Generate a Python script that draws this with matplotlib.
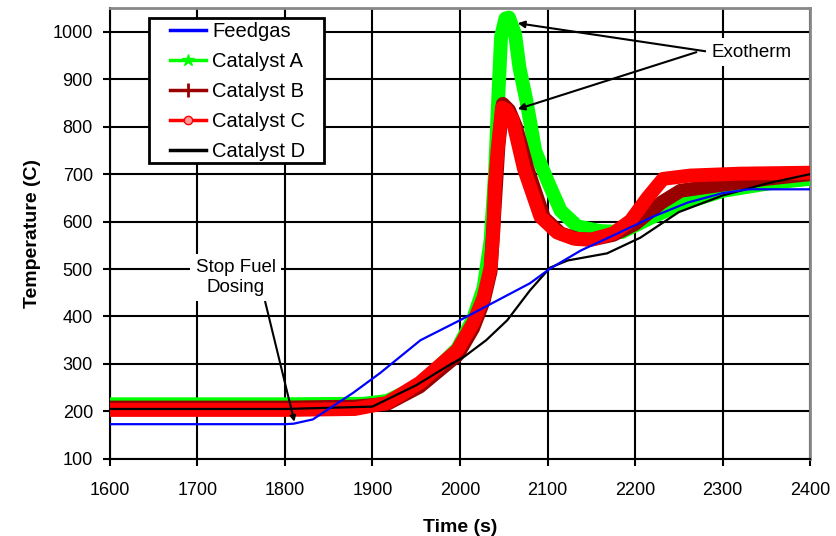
import numpy as np
import matplotlib
matplotlib.use("Agg")
import matplotlib.pyplot as plt
from matplotlib.lines import Line2D
from matplotlib.patches import Rectangle

plt.rcParams['font.family'] = ['Liberation Sans', 'DejaVu Sans']

# values
feed_t = [1600, 1700, 1800, 1810, 1832, 1878, 1909, 1955, 2000, 2043, 2080, 2103, 2138,
          2180, 2220, 2260, 2300, 2330, 2400]
feed_T = [173, 173, 173, 174, 183, 239, 281, 350, 392, 434, 470, 501, 539,
          575, 610, 640, 660, 668, 668]

catA_t = [1600, 1800, 1890, 1917, 1954, 1997, 2015, 2027, 2035, 2040, 2044, 2047, 2052,
          2056, 2063, 2068, 2076, 2086, 2100, 2115, 2134, 2160, 2185, 2218, 2252, 2301,
          2358, 2400]
catA_T = [215, 215, 216, 222, 255, 332, 395, 460, 560, 700, 870, 990, 1028,
          1030, 995, 924, 854, 749, 686, 623, 590, 580, 578, 608, 637, 665,
          682, 690]

catB_t = [1600, 1800, 1880, 1917, 1954, 1997, 2015, 2027, 2035, 2040, 2044, 2049, 2056,
          2064, 2077, 2096, 2115, 2135, 2150, 2175, 2200, 2230, 2252, 2301, 2350, 2400]
catB_T = [208, 208, 210, 216, 252, 318, 375, 432, 495, 640, 760, 848, 835,
          800, 712, 608, 575, 563, 562, 572, 595, 640, 665, 678, 690, 700]

catC_t = [1600, 1800, 1880, 1917, 1954, 1997, 2015, 2027, 2035, 2038, 2040, 2043, 2048,
          2053, 2060, 2073, 2092, 2111, 2130, 2150, 2175, 2195, 2214, 2232, 2263, 2320, 2400]
catC_T = [203, 203, 205, 218, 260, 329, 386, 440, 503, 575, 680, 750, 840,
          835, 815, 712, 610, 577, 564, 562, 575, 602, 650, 690, 697, 701, 703]

catD_t = [1600, 1800, 1900, 1950, 1990, 2004, 2030, 2054, 2080, 2103, 2123, 2168, 2206,
          2250, 2300, 2350, 2400]
catD_T = [205, 205, 210, 255, 300, 314, 350, 392, 455, 503, 518, 533, 566,
          620, 655, 680, 700]

labels = ['Feedgas', 'Catalyst A', 'Catalyst B', 'Catalyst C', 'Catalyst D']

W, H = 837, 536
fig = plt.figure(figsize=(W / 100, H / 100), dpi=100)
ax = fig.add_axes([0.131, 0.144, 0.837, 0.841])

ax.plot(catA_t, catA_T, color='#00ff00', lw=10, solid_joinstyle='round', zorder=3)
ax.plot(catB_t, catB_T, color='#990000', lw=10, solid_joinstyle='round', zorder=4)
ax.plot(catC_t, catC_T, color='#ff0000', lw=10, solid_joinstyle='round', zorder=5)
ax.plot(catD_t, catD_T, color='black', lw=1.6, zorder=6)
ax.plot(feed_t, feed_T, color='#0000ff', lw=1.6, zorder=7)

ax.set_xlim(1600, 2400)
ax.set_ylim(100, 1050)
ax.set_xticks(np.arange(1600, 2401, 100))
ax.set_yticks(np.arange(100, 1001, 100))
ax.grid(True, color='black', lw=1.5, zorder=1)
ax.set_axisbelow(True)
ax.tick_params(axis='both', direction='out', length=5, width=1.5, labelsize=13)
ax.tick_params(axis='x', pad=12)
ax.tick_params(axis='y', pad=7)
for side in ['top', 'right']:
    ax.spines[side].set_color('#888888')
    ax.spines[side].set_linewidth(2)
for side in ['left', 'bottom']:
    ax.spines[side].set_linewidth(1.5)

ax.set_xlabel('Time (s)', fontsize=14, fontweight='bold', labelpad=14)
ax.set_ylabel('Temperature (C)', fontsize=14, fontweight='bold', labelpad=8)

# legend frame drawn by hand so the padding matches the reference
frame = Rectangle((149 / W, 1 - 163 / H), 175 / W, 145 / H, transform=fig.transFigure,
                  fc='white', ec='black', lw=2, zorder=5)
fig.patches.append(frame)

handles = [
    Line2D([], [], color='#0000ff', lw=2.5),
    Line2D([], [], color='#00ff00', lw=2.5, marker='*', ms=9),
    Line2D([], [], color='#990000', lw=2.5, marker='+', ms=10, mew=2),
    Line2D([], [], color='#ff0000', lw=2.5, marker='o', ms=6, mfc='#ff9999'),
    Line2D([], [], color='black', lw=2.5),
]
leg = fig.legend(handles, labels, loc='upper left', bbox_to_anchor=(170 / W, 1 - 22 / H),
                 fontsize=14.5, frameon=False, handlelength=1.8, handletextpad=0.3,
                 labelspacing=0.55, borderpad=0, borderaxespad=0)
leg.set_zorder(6)

ax.annotate('Stop Fuel\nDosing', xy=(1811, 178), xytext=(1744, 482),
            fontsize=13.5, ha='center', va='center',
            bbox=dict(boxstyle='square,pad=0.3', fc='white', ec='none'),
            arrowprops=dict(arrowstyle='-|>', color='black', lw=1.5,
                            shrinkA=0, shrinkB=0, mutation_scale=8,
                            relpos=(0.85, 0.0)),
            zorder=9)

ax.annotate('Exotherm', xy=(2066, 1018), xytext=(2333, 957),
            fontsize=13.5, ha='center', va='center',
            bbox=dict(boxstyle='square,pad=0.3', fc='white', ec='none'),
            arrowprops=dict(arrowstyle='-|>', color='black', lw=1.5,
                            shrinkA=0, shrinkB=0, mutation_scale=10,
                            relpos=(0.0, 0.5)),
            zorder=9)
ax.annotate('', xy=(2066, 837), xytext=(2270, 957),
            arrowprops=dict(arrowstyle='-|>', color='black', lw=1.5,
                            shrinkA=0, shrinkB=0, mutation_scale=10),
            zorder=9)

fig.savefig('out.png', dpi=100)
